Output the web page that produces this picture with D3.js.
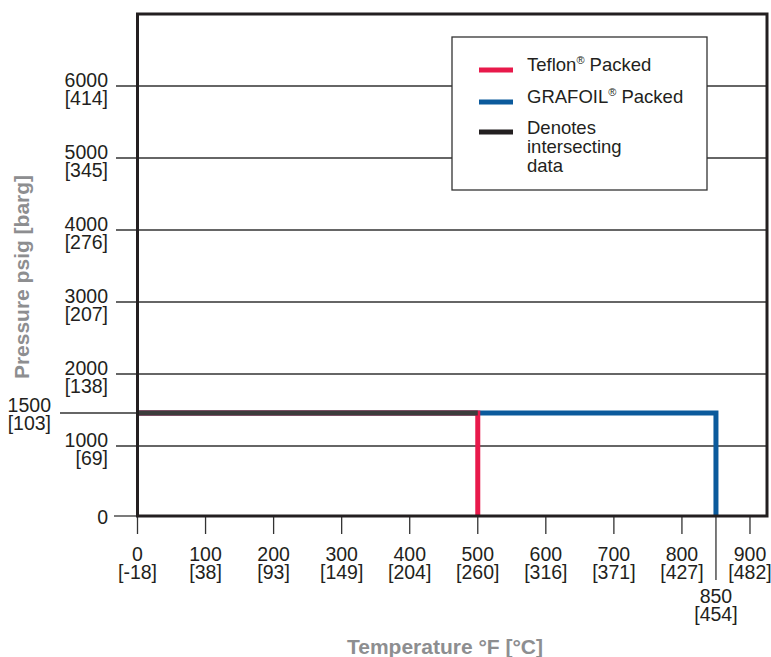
<!DOCTYPE html>
<html><head><meta charset="utf-8">
<script src="https://cdn.jsdelivr.net/npm/d3@7"></script>
<style>
body{margin:0;background:#fff;}
svg{display:block;}
.tick-lab{font-family:"Liberation Sans Narrow","Arial Narrow","Liberation Sans",Arial,sans-serif;font-size:19.5px;fill:#231f20;}
.leg{font-family:"Liberation Sans",Arial,Helvetica,sans-serif;font-size:18.5px;fill:#231f20;}
.title{font-family:"Liberation Sans",Arial,Helvetica,sans-serif;font-size:21px;font-weight:bold;fill:#8d8e90;}
</style></head>
<body>
<svg id="chart" width="771" height="657"></svg>
<script>
// ---- data ----
const xTicksF = [0, 100, 200, 300, 400, 500, 600, 700, 800, 900];
const xTicksC = ["[-18]", "[38]", "[93]", "[149]", "[204]", "[260]", "[316]", "[371]", "[427]", "[482]"];
const xExtraF = [850];
const xExtraC = ["[454]"];
const yTicksPsi = [1000, 2000, 3000, 4000, 5000, 6000];
const yTicksBar = ["[69]", "[138]", "[207]", "[276]", "[345]", "[414]"];
const yExtraPsi = [1500];
const yExtraBar = ["[103]"];
const teflonX = [0, 500, 500];
const teflonY = [1500, 1500, 0];
const grafoilX = [0, 850, 850];
const grafoilY = [1500, 1500, 0];
const overlapX = [0, 500];
const overlapY = [1500, 1500];
const legendLabels = ["Teflon", "GRAFOIL", "Denotes"];
const colors = {teflon: "#e8194b", grafoil: "#0b5a9c", both: "#3c3c3c", legendBoth: "#231f20"};

const svg = d3.select("#chart");
const x = d3.scaleLinear().domain([0, 925]).range([137.5, 767]);
// the printed chart's y axis is not perfectly uniform: piecewise-linear scale
const y = d3.scaleLinear().domain([0, 1000, 1500, 2000, 7000]).range([516, 446, 413, 374, 14]);
const ink = "#231f20";

// gridlines
svg.append("g").selectAll("line").data(yTicksPsi).join("line")
  .attr("x1", 116).attr("x2", x(925)).attr("y1", d => y(d)).attr("y2", d => y(d))
  .attr("stroke", "#333").attr("stroke-width", 1.3);
svg.append("line").attr("x1", 60).attr("x2", x(0)).attr("y1", y(1500)).attr("y2", y(1500))
  .attr("stroke", "#333").attr("stroke-width", 1.3);
svg.append("line").attr("x1", 114).attr("x2", x(0)).attr("y1", y(0)).attr("y2", y(0))
  .attr("stroke", "#333").attr("stroke-width", 1.3);

// y labels
const yl = svg.append("g");
yTicksPsi.forEach((v, i) => {
  const t = yl.append("text").attr("class", "tick-lab").attr("text-anchor", "end").attr("x", 108).attr("y", y(v) + 1);
  t.append("tspan").attr("x", 108).attr("dy", 0).text(v);
  t.append("tspan").attr("x", 108).attr("dy", 18).text(yTicksBar[i]);
});
yExtraPsi.forEach((v, i) => {
  const t = yl.append("text").attr("class", "tick-lab").attr("text-anchor", "end").attr("x", 51).attr("y", y(v) - 1);
  t.append("tspan").attr("x", 51).attr("dy", 0).text(v);
  t.append("tspan").attr("x", 51).attr("dy", 18).text(yExtraBar[i]);
});
yl.append("text").attr("class", "tick-lab").attr("text-anchor", "end").attr("x", 108).attr("y", y(0) + 8).text("0");

// x ticks
const xg = svg.append("g");
xg.selectAll("line.t").data(xTicksF).join("line").attr("class", "t")
  .attr("x1", d => x(d)).attr("x2", d => x(d)).attr("y1", y(0)).attr("y2", y(0) + 18)
  .attr("stroke", "#333").attr("stroke-width", 1.3);
xTicksF.forEach((v, i) => {
  const t = xg.append("text").attr("class", "tick-lab").attr("text-anchor", "middle").attr("y", 561);
  t.append("tspan").attr("x", x(v)).attr("dy", 0).text(v);
  t.append("tspan").attr("x", x(v)).attr("dy", 18).text(xTicksC[i]);
});
xExtraF.forEach((v, i) => {
  xg.append("line").attr("x1", x(v)).attr("x2", x(v)).attr("y1", y(0)).attr("y2", 580)
    .attr("stroke", "#333").attr("stroke-width", 1.3);
  const t = xg.append("text").attr("class", "tick-lab").attr("text-anchor", "middle").attr("y", 603);
  t.append("tspan").attr("x", x(v)).attr("dy", 0).text(v);
  t.append("tspan").attr("x", x(v)).attr("dy", 18).text(xExtraC[i]);
});

// legend box
const lg = svg.append("g");
lg.append("rect").attr("x", 452).attr("y", 37).attr("width", 255).attr("height", 153)
  .attr("fill", "#fff").attr("stroke", "#333").attr("stroke-width", 1.3);
const legItems = [
  {c: colors.teflon, y: 70, lines: ["Teflon"], sup: true, rest: " Packed"},
  {c: colors.grafoil, y: 102, lines: ["GRAFOIL"], sup: true, rest: " Packed"},
  {c: colors.legendBoth, y: 132, lines: ["Denotes", "intersecting", "data"], sup: false}
];
legItems.forEach((it, i) => {
  lg.append("line").attr("x1", 479).attr("x2", 513).attr("y1", it.y).attr("y2", it.y)
    .attr("stroke", it.c).attr("stroke-width", 5);
  const t = lg.append("text").attr("class", "leg").attr("x", 527).attr("y", it.y + 1);
  if (it.sup) {
    t.append("tspan").text(legendLabels[i]);
    t.append("tspan").attr("font-size", "11px").attr("dy", -7).text("®");
    t.append("tspan").attr("dy", 7).text(it.rest);
  } else {
    it.lines.forEach((l, k) => t.append("tspan").attr("x", 527).attr("dy", k === 0 ? 1 : 19).text(l));
  }
});

// series
const line = d3.line().x(d => x(d[0])).y(d => y(d[1])).curve(d3.curveLinear);
const zip = (a, b) => a.map((v, i) => [v, b[i]]);
svg.append("path").datum(zip(grafoilX, grafoilY)).attr("d", line)
  .attr("fill", "none").attr("stroke", colors.grafoil).attr("stroke-width", 5).attr("stroke-linejoin", "miter");
svg.append("path").datum(zip(teflonX, teflonY)).attr("d", line)
  .attr("fill", "none").attr("stroke", colors.teflon).attr("stroke-width", 5).attr("stroke-linejoin", "miter");
svg.append("path").datum(zip(overlapX, overlapY)).attr("d", line)
  .attr("fill", "none").attr("stroke", colors.both).attr("stroke-width", 5);

// frame
svg.append("rect").attr("x", x(0)).attr("y", y(7000)).attr("width", x(925) - x(0)).attr("height", y(0) - y(7000))
  .attr("fill", "none").attr("stroke", ink).attr("stroke-width", 3);

// titles
svg.append("text").attr("class", "title").attr("text-anchor", "middle").attr("x", 445).attr("y", 654)
  .text("Temperature °F [°C]");
svg.append("text").attr("class", "title").attr("text-anchor", "middle")
  .attr("transform", "translate(29,277) rotate(-90)").text("Pressure psig [barg]");
</script>
</body></html>
